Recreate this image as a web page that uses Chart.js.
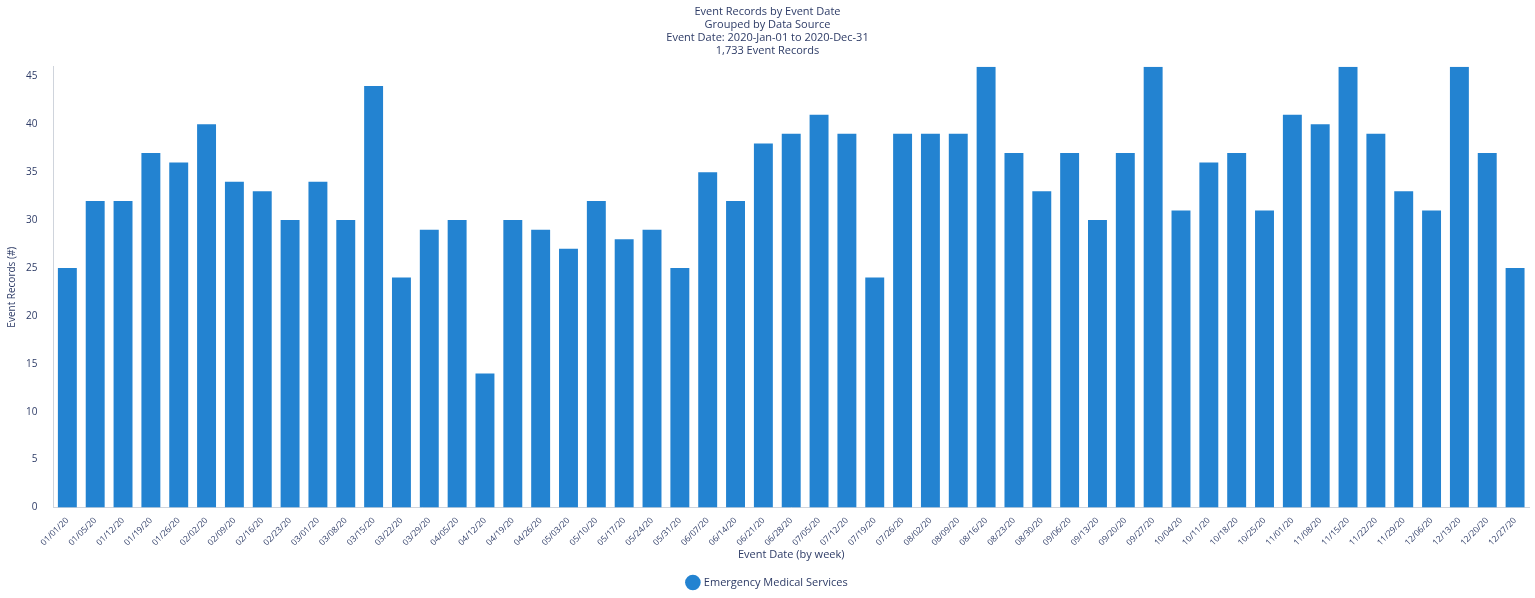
<!DOCTYPE html>
<html>
<head>
<meta charset="utf-8">
<script src="https://cdn.jsdelivr.net/npm/chart.js@4/dist/chart.umd.min.js"></script>
<style>
	html, body { margin: 0; padding: 0; background: #fff; }
	#wrap { width: 1535px; height: 598px; }
</style>
</head>
<body>
<div id="wrap"><canvas id="event-chart"></canvas></div>
<script>
var weeks = ['01/01/20','01/05/20','01/12/20','01/19/20','01/26/20','02/02/20','02/09/20','02/16/20','02/23/20',
	'03/01/20','03/08/20','03/15/20','03/22/20','03/29/20','04/05/20','04/12/20','04/19/20','04/26/20',
	'05/03/20','05/10/20','05/17/20','05/24/20','05/31/20','06/07/20','06/14/20','06/21/20','06/28/20',
	'07/05/20','07/12/20','07/19/20','07/26/20','08/02/20','08/09/20','08/16/20','08/23/20','08/30/20',
	'09/06/20','09/13/20','09/20/20','09/27/20','10/04/20','10/11/20','10/18/20','10/25/20',
	'11/01/20','11/08/20','11/15/20','11/22/20','11/29/20','12/06/20','12/13/20','12/20/20','12/27/20'];

var emsRecords = [25,32,32,37,36,40,34,33,30,34,30,44,24,29,30,14,30,29,27,32,28,29,25,35,32,38,39,
	41,39,24,39,39,39,46,37,33,37,30,37,46,31,36,37,31,41,40,46,39,33,31,46,37,25];

var yTicks = [0,5,10,15,20,25,30,35,40,45];

var titleLines = ['Event Records by Event Date', 'Grouped by Data Source',
	'Event Date: 2020-Jan-01 to 2020-Dec-31', '1,733 Event Records'];

var textColor = '#2d3b66';
var barColor = '#2383d1';

Chart.defaults.font.family = "'Open Sans', 'DejaVu Sans', sans-serif";
Chart.defaults.color = textColor;

var ctx = document.getElementById('event-chart').getContext('2d');
var myChart = new Chart(ctx, {
	type: 'bar',
	data: {
		labels: weeks,
		datasets: [{
			label: 'Emergency Medical Services',
			data: emsRecords,
			backgroundColor: barColor,
			borderWidth: 0,
			barPercentage: 0.68,
			categoryPercentage: 1
		}]
	},
	options: {
		responsive: true,
		maintainAspectRatio: false,
		animation: false,
		layout: { padding: { top: 5, right: 6, left: 6, bottom: 0 } },
		plugins: {
			title: {
				display: true,
				text: titleLines,
				color: textColor,
				font: { size: 11, weight: 'normal', lineHeight: 1.2 },
				padding: { top: 0, bottom: 9 }
			},
			legend: {
				position: 'bottom',
				labels: {
					usePointStyle: true,
					pointStyle: 'circle',
					boxWidth: 16,
					boxHeight: 16,
					color: textColor,
					font: { size: 11 },
					padding: 3
				}
			},
			tooltip: { enabled: false }
		},
		scales: {
			x: {
				grid: { display: false },
				border: { color: '#cfd4dc' },
				ticks: {
					autoSkip: false,
					minRotation: 45,
					maxRotation: 45,
					color: textColor,
					font: { size: 8.5 },
					padding: 0
				},
				title: {
					display: true,
					text: 'Event Date (by week)',
					color: textColor,
					font: { size: 11 },
					padding: { top: 0, bottom: 13 }
				}
			},
			y: {
				min: 0,
				max: 46,
				grid: { display: false },
				border: { color: '#cfd4dc' },
				afterBuildTicks: function(scale) {
					scale.ticks = yTicks.map(function(v) { return { value: v }; });
				},
				ticks: {
					color: textColor,
					font: { size: 10 },
					padding: 8
				},
				title: {
					display: true,
					text: 'Event Records (#)',
					color: textColor,
					font: { size: 10 },
					padding: { top: 0, bottom: 0 }
				}
			}
		}
	}
});
</script>
</body>
</html>
